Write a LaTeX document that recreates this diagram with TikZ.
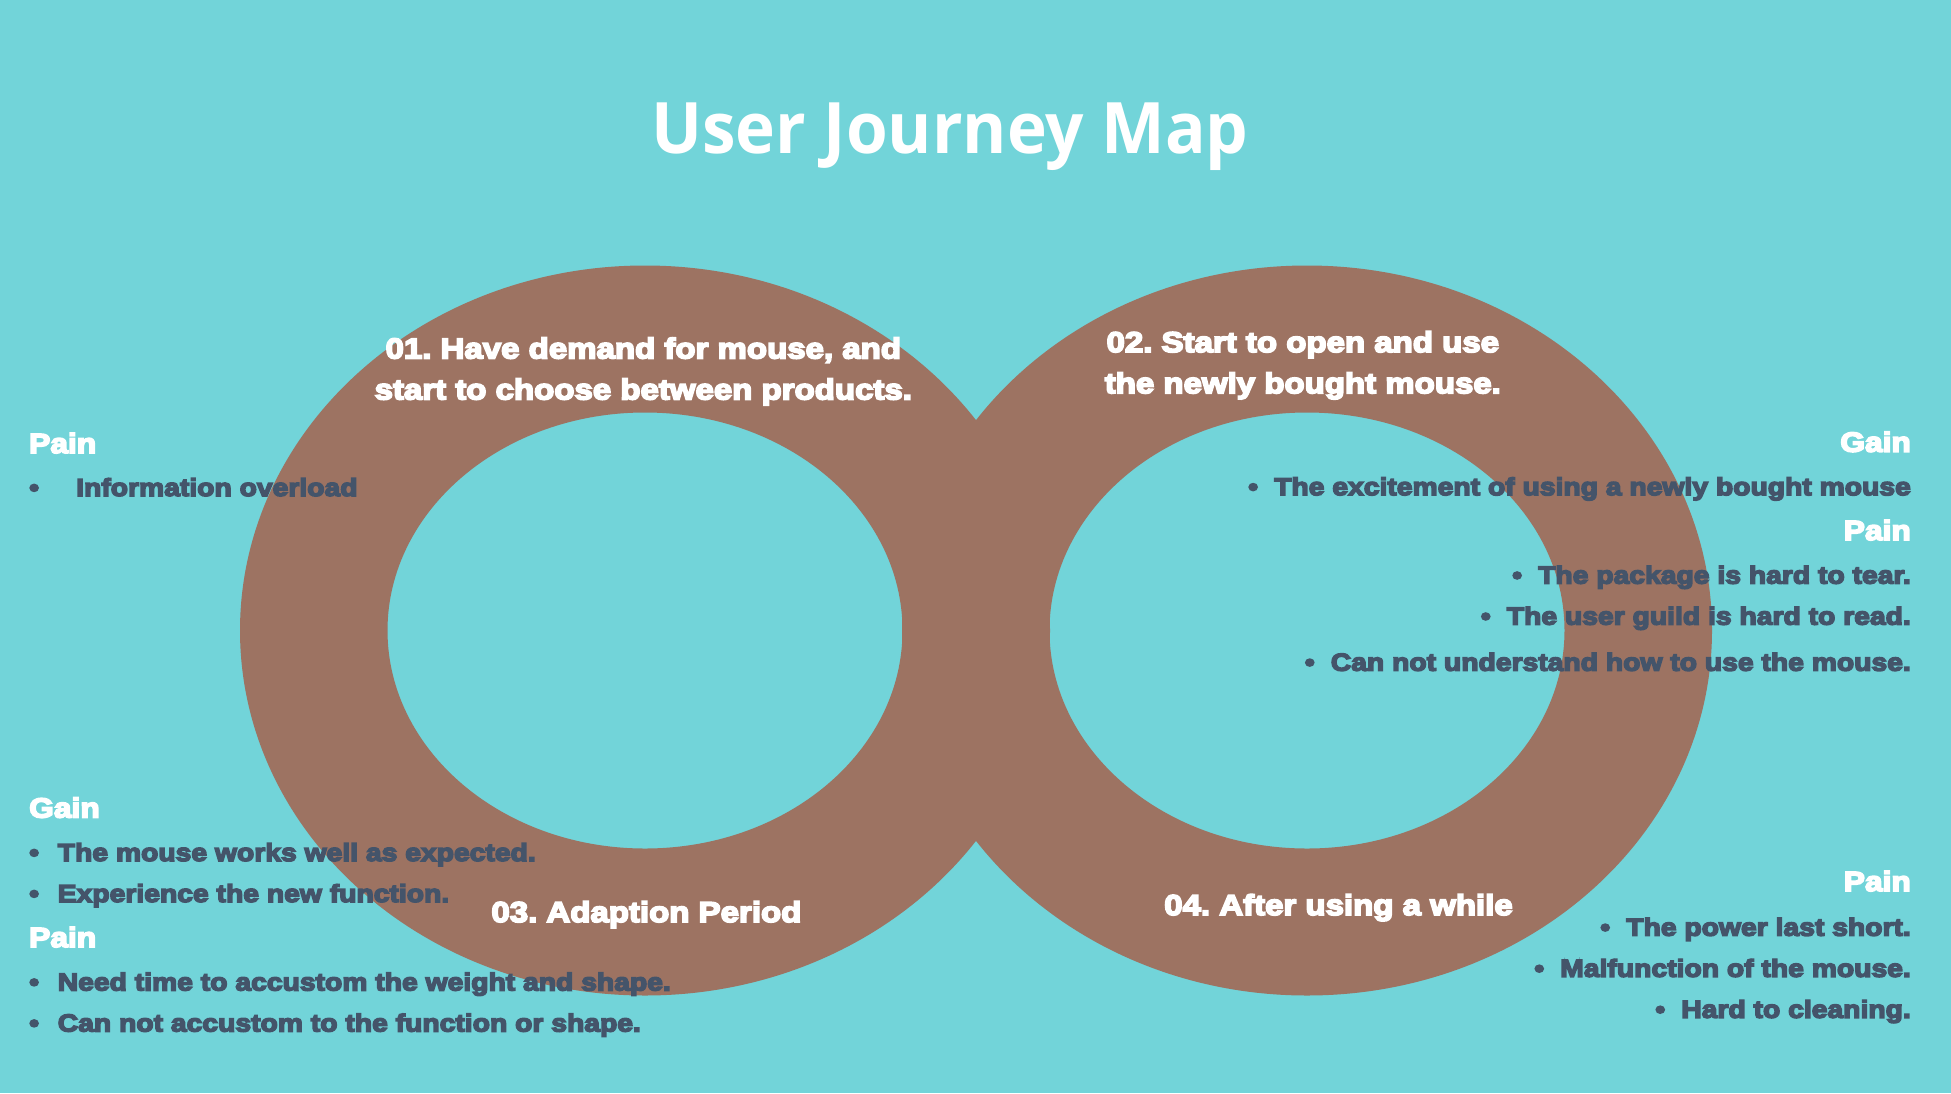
\documentclass[tikz,border=0pt]{standalone}
\usepackage{fontspec}
\newfontfamily\blk{Liberation Sans Bold}[FakeStretch=1.15,FakeBold=6]
\newfontfamily\ttl{Open Sans}[FakeStretch=0.95]
\definecolor{bgc}{HTML}{72D4D9}
\definecolor{ringc}{HTML}{9D7362}
\definecolor{txtc}{HTML}{44546A}
\newcommand{\bul}[1]{\makebox[#1][l]{•}}
\frenchspacing
\begin{document}
\begin{tikzpicture}[x=1pt,y=-1pt,
  ring/.style={fill=ringc, even odd rule},
  hd/.style={text=white, font=\blk\fontsize{27.6}{33}\selectfont, inner sep=0},
  bd/.style={text=txtc, font=\blk\fontsize{24.6}{30}\selectfont, inner sep=0},
  lb/.style={text=white, font=\blk\fontsize{28.7}{34}\selectfont, inner sep=0, anchor=base}]
\useasboundingbox (0,0) rectangle (1951,1093);
\fill[bgc] (0,0) rectangle (1951,1093);
% rings
\fill[ring] (645,630.5) ellipse [x radius=405, y radius=365] (645,630.5) ellipse [x radius=257.5, y radius=218];
\fill[ring] (1307,630.5) ellipse [x radius=405, y radius=365] (1307,630.5) ellipse [x radius=257.5, y radius=218];
% title
\node[text=white, font=\ttl\bfseries\fontsize{71}{80}\selectfont, inner sep=0, anchor=base] (title) at (950,153) {User Journey Map};
% ring labels
\node[lb] (l1a) at (643.3,358.4) {01. Have demand for mouse, and};
\node[lb] (l1b) at (643.3,399.4) {start to choose between products.};
\node[lb] (l2a) at (1302.8,352.1) {02. Start to open and use};
\node[lb] (l2b) at (1302.8,393.2) {the newly bought mouse.};
\node[lb] (l3) at (646.4,922) {03. Adaption Period};
\node[lb] (l4) at (1338.5,915) {04. After using a while};
% left column
\node[hd, anchor=base west] (p1) at (29,453) {Pain};
\node[bd, anchor=base west] (p1a) at (29,496) {\bul{47pt}Information overload};
\node[hd, anchor=base west] (g3) at (29,817.5) {Gain};
\node[bd, anchor=base west] (g3a) at (29,861) {\bul{28.6pt}The mouse works well as expected.};
\node[bd, anchor=base west] (g3b) at (29,902) {\bul{28.6pt}Experience the new function.};
\node[hd, anchor=base west] (p3) at (29,947) {Pain};
\node[bd, anchor=base west] (p3a) at (29,990.5) {\bul{28.6pt}Need time to accustom the weight and shape.};
\node[bd, anchor=base west] (p3b) at (29,1031.5) {\bul{28.6pt}Can not accustom to the function or shape.};
% right column
\node[hd, anchor=base east] (g2) at (1911,451.7) {Gain};
\node[bd, anchor=base east] (g2a) at (1911,495.2) {\bul{26pt}The excitement of using a newly bought mouse};
\node[hd, anchor=base east] (p2) at (1911,540) {Pain};
\node[bd, anchor=base east] (p2a) at (1911,583.6) {\bul{26pt}The package is hard to tear.};
\node[bd, anchor=base east] (p2b) at (1911,624.6) {\bul{26pt}The user guild is hard to read.};
\node[bd, anchor=base east] (p2c) at (1911,670.7) {\bul{26pt}Can not understand how to use the mouse.};
\node[hd, anchor=base east] (p4) at (1911,891) {Pain};
\node[bd, anchor=base east] (p4a) at (1911,935.7) {\bul{26pt}The power last short.};
\node[bd, anchor=base east] (p4b) at (1911,976.8) {\bul{26pt}Malfunction of the mouse.};
\node[bd, anchor=base east] (p4c) at (1911,1017.8) {\bul{26pt}Hard to cleaning.};
\end{tikzpicture}
\end{document}
